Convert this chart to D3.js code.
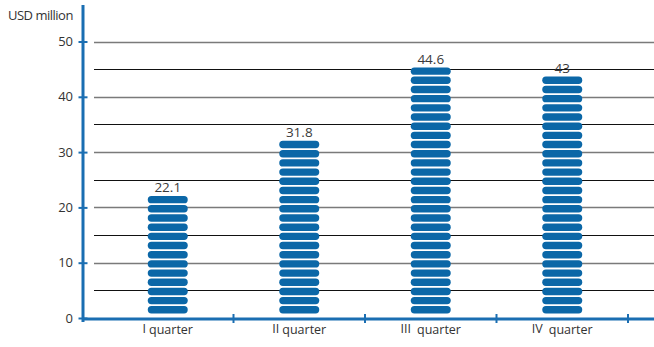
<!DOCTYPE html>
<html>
<head>
<meta charset="utf-8">
<script src="https://cdn.jsdelivr.net/npm/d3@7"></script>
<style>
  body { margin: 0; background: #fff; }
  text { font-family: "Open Sans", sans-serif; }
</style>
</head>
<body>
<script>
'use strict';

// chart data
const numerals = ["I", "II", "III", "IV"];
const values = [22.1, 31.8, 44.6, 43];
const yTicks = [0, 10, 20, 30, 40, 50];
const gridValues = [5, 10, 15, 20, 25, 30, 35, 40, 45, 50];
const pillUnit = 1.66; // one pill stands for this many USD million

const width = 654, height = 347;
const blue = "#0b67a7";
const axisBlue = "#1a6eb2";

const svg = d3.select("body").append("svg")
  .attr("width", width)
  .attr("height", height);

// scales
const yScale = d3.scaleLinear().domain([0, 50]).range([318, 41.5]);
const xScale = d3.scaleBand().domain(numerals).range([102, 628]);

// gridlines, major gray and minor black
svg.append("g").selectAll("line")
  .data(gridValues)
  .enter()
  .append("line")
  .attr("x1", 94)
  .attr("x2", width)
  .attr("y1", d => Math.round(yScale(d)) + 0.5)
  .attr("y2", d => Math.round(yScale(d)) + 0.5)
  .attr("stroke", d => d % 10 === 0 ? "#7a7a7a" : "#111")
  .attr("stroke-width", d => d % 10 === 0 ? 1.4 : 1);

// bars made of stacked pills
const step = yScale(0) - yScale(pillUnit);
const pillH = 7.4;
const barW = 40;

const bars = svg.append("g").selectAll("g")
  .data(values)
  .enter()
  .append("g");

bars.each(function (v, i) {
  const n = Math.round(v / pillUnit);
  const cx = xScale(numerals[i]) + xScale.bandwidth() / 2;
  const g = d3.select(this);
  g.selectAll("rect")
    .data(d3.range(n))
    .enter()
    .append("rect")
    .attr("x", cx - barW / 2)
    .attr("y", k => yScale(0) - 4.5 - k * step - pillH)
    .attr("width", barW)
    .attr("height", pillH)
    .attr("rx", pillH / 2)
    .attr("fill", blue);
  // value label above the top pill
  const top = yScale(0) - 4.5 - (n - 1) * step - pillH;
  g.append("text")
    .attr("x", cx)
    .attr("y", top - 3.5)
    .attr("text-anchor", "middle")
    .style("font-size", "13.5px")
    .attr("fill", "#3a3a3a")
    .text(v);
});

// y axis
const yAxis = d3.axisLeft(yScale).tickValues(yTicks).tickSize(0).tickPadding(10);
const yG = svg.append("g")
  .attr("transform", "translate(83,0)")
  .call(yAxis);
yG.select(".domain").remove();
yG.selectAll("text")
  .style("font-size", "13px")
  .style("font-family", "Open Sans, sans-serif")
  .attr("fill", "#333");
yG.selectAll(".tick").append("line")
  .attr("x1", -4.5)
  .attr("x2", 4.5)
  .attr("stroke", axisBlue)
  .attr("stroke-width", 2);
svg.append("line")
  .attr("x1", 83).attr("x2", 83)
  .attr("y1", 5).attr("y2", 322)
  .attr("stroke", axisBlue)
  .attr("stroke-width", 3);

// x axis
svg.append("line")
  .attr("x1", 83).attr("x2", width)
  .attr("y1", 319).attr("y2", 319)
  .attr("stroke", axisBlue)
  .attr("stroke-width", 3);
svg.append("g").selectAll("line")
  .data(numerals)
  .enter()
  .append("line")
  .attr("x1", d => xScale(d) + xScale.bandwidth())
  .attr("x2", d => xScale(d) + xScale.bandwidth())
  .attr("y1", 314)
  .attr("y2", 323)
  .attr("stroke", axisBlue)
  .attr("stroke-width", 2);

// category labels
const xLabels = svg.append("g").selectAll("text")
  .data(numerals)
  .enter()
  .append("text")
  .attr("x", d => xScale(d) + xScale.bandwidth() / 2)
  .attr("y", 334)
  .attr("text-anchor", "middle")
  .style("font-size", "12.5px")
  .attr("fill", "#333");
xLabels.append("tspan").attr("dy", -1).text(d => d);
xLabels.append("tspan").attr("dx", d => d.length > 2 || d === "IV" ? 6 : 3).attr("dy", 1).text("quarter");

// unit label
svg.append("text")
  .attr("x", 8)
  .attr("y", 20)
  .style("font-size", "13px")
  .style("letter-spacing", "-0.5px")
  .attr("fill", "#333")
  .text("USD million");
</script>
</body>
</html>
